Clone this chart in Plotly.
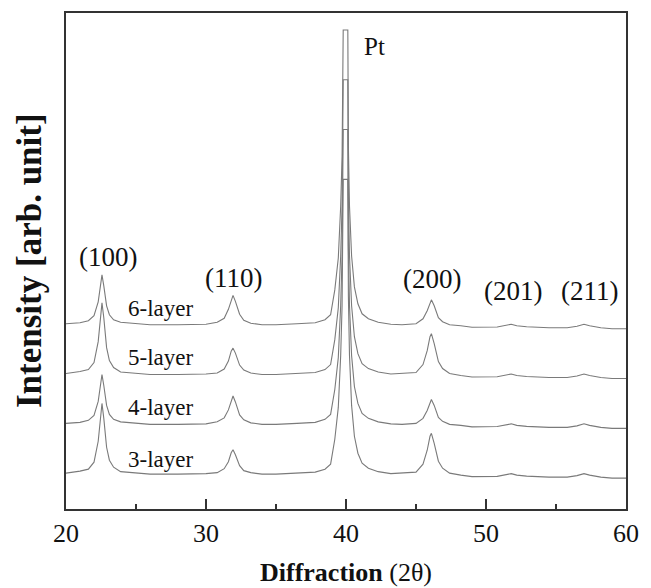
import plotly.graph_objects as go

two_theta = [20.0, 21.0, 21.6, 22.0, 22.3, 22.45, 22.57, 22.7, 22.9, 23.1, 23.4, 23.9, 24.6,
             26.0, 28.0, 30.0, 30.8, 31.3, 31.6, 31.8, 31.93, 32.1, 32.4, 32.7, 33.2, 34.0,
             35.0, 36.5, 37.8, 38.5, 38.9, 39.2, 39.45, 39.62, 39.72, 39.8, 40.13, 40.17,
             40.25, 40.4, 40.6, 40.85, 41.15, 41.6, 42.3, 43.2, 44.0, 45.0, 45.5, 45.8, 46.0,
             46.1, 46.3, 46.6, 46.9, 47.4, 48.2, 49.0, 50.8, 51.4, 51.8, 52.2, 52.9, 54.5,
             55.8, 56.5, 57.0, 57.4, 58.2, 59.0, 60.0]

layer3 = [36, 38, 40, 47, 68, 91, 106, 91, 62, 49, 42, 37.5, 36.5,
          35, 35, 35.5, 36.5, 40.5, 47.5, 56.5, 59.5, 54.5, 43.5, 38.5, 36.5, 35,
          35, 36, 37, 40, 45, 70, 102, 154, 204, 331, 331, 214,
          154, 104, 73, 56, 46, 41, 37.5, 35.5, 36, 37, 45, 59, 73,
          76, 66, 48, 41, 36, 34, 32.5, 32.8, 34, 35.5, 34, 33, 32,
          32, 33.5, 35.5, 34, 32, 31, 31]

layer4 = [36, 37, 39, 44, 58, 75, 85, 74, 54, 45, 40, 37.5, 36.5,
          35, 35, 35.5, 37.5, 41.5, 49.5, 59.5, 63.5, 57.5, 44.5, 39.5, 36.5, 35,
          35, 36, 37, 40, 45, 70, 102, 154, 204, 331, 331, 214,
          154, 104, 73, 56, 46, 41, 37.5, 35.5, 35, 36, 41, 49, 58,
          60, 54, 42, 38, 35, 34, 32.5, 32.8, 34, 35.5, 34, 33, 32,
          32, 33.5, 35.5, 34, 32, 31, 31]

layer5 = [36, 38, 40, 47, 68, 92, 107, 92, 62, 49, 42, 37.5, 36.5,
          35, 35, 35.5, 36.5, 40.5, 48.5, 58.5, 61.5, 56.5, 44.5, 39.5, 36.5, 35,
          35, 36, 37, 40, 45, 70, 102, 154, 204, 331, 331, 214,
          154, 104, 73, 56, 46, 41, 37.5, 35.5, 36, 37, 45, 59, 73,
          76, 66, 48, 41, 36, 34, 32.5, 32.8, 34, 35.5, 34, 33, 32,
          32, 33.5, 35.5, 34, 32, 31, 31]

layer6 = [36, 37, 39, 44, 58, 75, 85, 74, 54, 45, 40, 37.5, 36.5,
          35, 35, 35.5, 37.5, 41.5, 50.5, 60.5, 64.5, 58.5, 45.5, 39.5, 36.5, 35,
          35, 36, 37, 40, 45, 70, 102, 154, 204, 331, 331, 214,
          154, 104, 73, 56, 46, 41, 37.5, 35.5, 35, 36, 41, 49, 58,
          60, 54, 42, 38, 35, 34, 32.5, 32.8, 34, 35.5, 34, 33, 32,
          32, 33.5, 35.5, 34, 32, 31, 31]

series_names = ["3-layer", "4-layer", "5-layer", "6-layer"]
series_values = [layer3, layer4, layer5, layer6]
stack_offsets = [0, 50, 100, 150]
label_x = 26.75
label_y = [50, 102, 152, 201]

peak_labels = ["(100)", "(110)", "(200)", "(201)", "(211)", "Pt"]
peak_label_x = [23.0, 31.93, 46.14, 51.93, 57.36, 42.07]
peak_label_y = [253, 232, 231, 219, 219, 464]

x_ticks = [20, 30, 40, 50, 60]

serif = "Liberation Serif, Times New Roman, serif"
fig = go.Figure()
for name, vals, off in zip(series_names, series_values, stack_offsets):
    assert len(vals) == len(two_theta)
    fig.add_trace(go.Scatter(x=two_theta, y=[v + off for v in vals], mode="lines",
                             name=name, line=dict(color="#7a7a7a", width=1.1),
                             showlegend=False))

for name, ly in zip(series_names, label_y):
    fig.add_annotation(x=label_x, y=ly, text=name, showarrow=False,
                       font=dict(family=serif, size=23, color="#111"))
for t, px, py in zip(peak_labels, peak_label_x, peak_label_y):
    fig.add_annotation(x=px, y=py, text=t, showarrow=False,
                       font=dict(family=serif, size=27 if t != "Pt" else 25, color="#111"))

# y-axis title placed as a rotated annotation
fig.add_annotation(xref="paper", yref="paper", x=0, y=0.5, xshift=-37, textangle=-90,
                   xanchor="center", yanchor="middle",
                   text="<b>Intensity [arb. unit]</b>", showarrow=False,
                   font=dict(family=serif, size=35, color="#111"))

fig.update_layout(
    width=651, height=588,
    margin=dict(l=58, r=33, t=3, b=87),
    plot_bgcolor="white", paper_bgcolor="white",
    xaxis=dict(range=[20, 60], tickvals=x_ticks, ticks="inside", ticklen=10, tickwidth=1.5,
               tickcolor="#333", showline=True, linecolor="#333", linewidth=2, mirror=True,
               showgrid=False, zeroline=False,
               minor=dict(dtick=5, ticks="inside", ticklen=5, tickwidth=1.5, tickcolor="#333",
                          showgrid=False),
               tickfont=dict(family=serif, size=26, color="#111"),
               title=dict(text="<b>Diffraction</b> (2θ)", font=dict(family=serif, size=26, color="#111"),
                          standoff=16)),
    yaxis=dict(range=[0, 498], showticklabels=False, ticks="", showline=True, linecolor="#333",
               linewidth=2, mirror=True, showgrid=False, zeroline=False),
)
fig.write_html("out.html")
